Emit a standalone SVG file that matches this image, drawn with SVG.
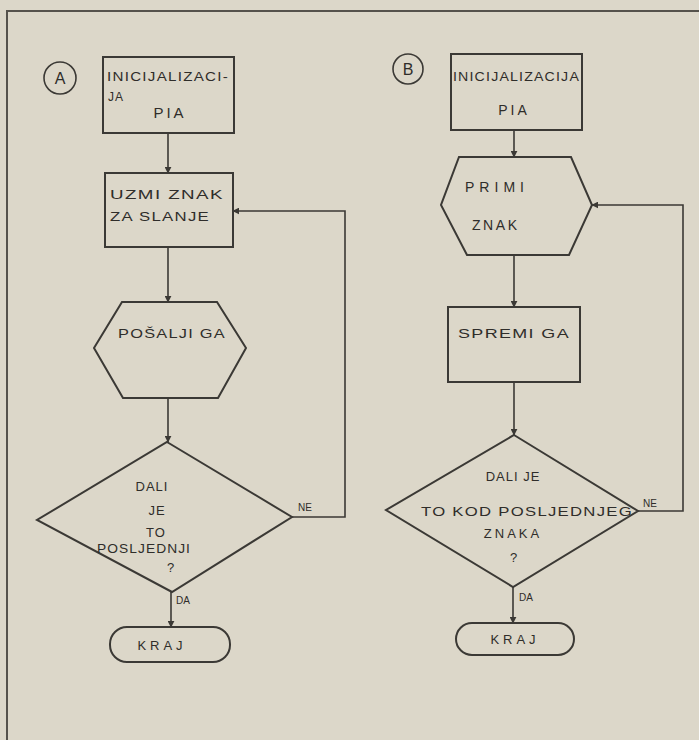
<svg xmlns="http://www.w3.org/2000/svg" width="699" height="740" viewBox="0 0 699 740">
<defs>
<marker id="ah" viewBox="0 0 10 10" refX="9" refY="5" markerWidth="7" markerHeight="7" orient="auto" markerUnits="userSpaceOnUse">
<path d="M0,0 L10,5 L0,10 Z" fill="#3b3935"/>
</marker>
<style>
.s{fill:none;stroke:#3b3935;stroke-width:2}
.c{fill:none;stroke:#3b3935;stroke-width:1.6}
.t{font-family:"Liberation Sans",Arial,sans-serif;font-size:13px;fill:#2f2d2a;letter-spacing:1px}
.m{text-anchor:middle}
.l{font-family:"Liberation Sans",Arial,sans-serif;font-size:10px;fill:#2f2d2a}
</style>
</defs>
<rect x="0" y="0" width="699" height="740" fill="#dcd7c9"/>
<g id="frame">
<path d="M7,740 L7,11 L699,11" fill="none" stroke="#55524c" stroke-width="2"/>
</g>
<g id="connectors">
<path class="c" d="M168,133 L168,173" marker-end="url(#ah)"/>
<path class="c" d="M168,247 L168,302" marker-end="url(#ah)"/>
<path class="c" d="M168,398 L168,442" marker-end="url(#ah)"/>
<path class="c" d="M292,517 L345,517 L345,211 L233,211" marker-end="url(#ah)"/>
<path class="c" d="M171,592 L171,627" marker-end="url(#ah)"/>
<path class="c" d="M514,130 L514,157" marker-end="url(#ah)"/>
<path class="c" d="M514,255 L514,307" marker-end="url(#ah)"/>
<path class="c" d="M514,382 L514,435" marker-end="url(#ah)"/>
<path class="c" d="M638,511 L683,511 L683,205 L592,205" marker-end="url(#ah)"/>
<path class="c" d="M513,587 L513,623" marker-end="url(#ah)"/>
<text class="l" x="298" y="511">NE</text>
<text class="l" x="176" y="604">DA</text>
<text class="l" x="643" y="507">NE</text>
<text class="l" x="519" y="601">DA</text>
</g>
<g id="labelA">
<circle class="c" cx="60" cy="78" r="16"/>
<text class="t m" x="60" y="84" style="letter-spacing:0;font-size:16px">A</text>
</g>
<g id="labelB">
<circle class="c" cx="408" cy="69" r="15"/>
<text class="t m" x="408" y="75" style="letter-spacing:0;font-size:16px">B</text>
</g>
<g id="a-init">
<rect class="s" x="103" y="57" width="131" height="76"/>
<text class="t" x="107" y="81" textLength="122" lengthAdjust="spacingAndGlyphs" style="font-size:12px">INICIJALIZACI-</text>
<text class="t" x="108" y="101" style="font-size:12px">JA</text>
<text class="t m" x="170" y="118" style="font-size:15px;letter-spacing:3px">PIA</text>
</g>
<g id="a-uzmi">
<rect class="s" x="105" y="173" width="128" height="74"/>
<text class="t" x="110" y="199" textLength="114" lengthAdjust="spacingAndGlyphs">UZMI  ZNAK</text>
<text class="t" x="110" y="221" textLength="100" lengthAdjust="spacingAndGlyphs">ZA  SLANJE</text>
</g>
<g id="a-posalji">
<polygon class="s" points="122,302 217,302 246,348 218,398 123,398 94,348"/>
<text class="t" x="118" y="338" textLength="108" lengthAdjust="spacingAndGlyphs">POŠALJI  GA</text>
</g>
<g id="a-dali">
<polygon class="s" points="167,442 292,517 172,592 37,520"/>
<text class="t m" x="152" y="491">DALI</text>
<text class="t m" x="157" y="515">JE</text>
<text class="t m" x="156" y="537">TO</text>
<text class="t m" x="144" y="553" textLength="94" lengthAdjust="spacingAndGlyphs">POSLJEDNJI</text>
<text class="t m" x="171" y="572">?</text>
</g>
<g id="a-kraj">
<rect class="s" x="110" y="627" width="120" height="35" rx="17" ry="17"/>
<text class="t m" x="162" y="650" style="letter-spacing:4px">KRAJ</text>
</g>
<g id="b-init">
<rect class="s" x="451" y="54" width="131" height="76"/>
<text class="t" x="453" y="81" textLength="127" lengthAdjust="spacingAndGlyphs" style="font-size:12px">INICIJALIZACIJA</text>
<text class="t m" x="514" y="115" style="font-size:14px;letter-spacing:3px">PIA</text>
</g>
<g id="b-primi">
<polygon class="s" points="459,157 571,157 592,205 569,255 467,255 441,205"/>
<text class="t" x="465" y="192" textLength="60" lengthAdjust="spacing" style="font-size:14px">PRIMI</text>
<text class="t" x="472" y="230" textLength="46" lengthAdjust="spacing" style="font-size:14px">ZNAK</text>
</g>
<g id="b-spremi">
<rect class="s" x="448" y="307" width="132" height="75"/>
<text class="t" x="458" y="338" textLength="112" lengthAdjust="spacingAndGlyphs">SPREMI  GA</text>
</g>
<g id="b-dali">
<polygon class="s" points="514,435 638,511 513,587 386,510"/>
<text class="t m" x="513" y="481">DALI  JE</text>
<text class="t" x="421" y="516" textLength="212" lengthAdjust="spacingAndGlyphs">TO  KOD  POSLJEDNJEG</text>
<text class="t m" x="513" y="538" style="letter-spacing:3px">ZNAKA</text>
<text class="t m" x="514" y="562">?</text>
</g>
<g id="b-kraj">
<rect class="s" x="456" y="623" width="118" height="32" rx="16" ry="16"/>
<text class="t m" x="515" y="644" style="letter-spacing:4px">KRAJ</text>
</g>
</svg>
